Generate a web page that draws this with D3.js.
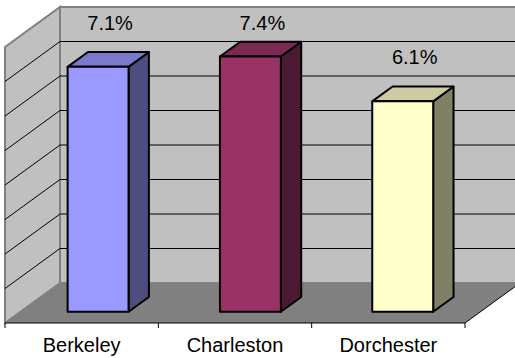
<!DOCTYPE html>
<meta charset="utf-8">
<script src="https://d3js.org/d3.v7.min.js"></script>
<style>
  body { margin: 0; background: #fff; }
  text { font-family: "Liberation Sans", Arial, sans-serif; fill: #000; }
</style>
<div id="chart"></div>
<script>
// data
var counties = ["Berkeley", "Charleston", "Dorchester"];
var rates = [7.1, 7.4, 6.1];
var rateLabels = ["7.1%", "7.4%", "6.1%"];
var frontColors = ["#9999FF", "#993366", "#FFFFCC"];
var yTicks = [1, 2, 3, 4, 5, 6, 7];

var width = 515, height = 358;

// 3d box: front plane of floor, plus depth offset
var x0 = 5, x1 = 465, yBase = 323, yTop = 47;
var DX = 55, DY = 40;
var f1 = 0.28, f2 = 0.65;   // bar depth (front, back) as fraction of floor depth

var svg = d3.select("#chart").append("svg")
    .attr("width", width)
    .attr("height", height);

var x = d3.scaleBand()
    .domain(counties)
    .range([x0, x1])
    .paddingInner(0.6)
    .paddingOuter(0.31);

var y = d3.scaleLinear()
    .domain([0, 8])
    .range([yBase, yTop]);

var cat = d3.scaleBand().domain(counties).range([x0, x1]);

function pt(px, py, f) { return [px + f * DX, py - f * DY]; }
function poly(points) { return points.map(function(p) { return p.join(","); }).join(" "); }

// side wall
svg.append("polygon")
    .attr("points", poly([pt(x0, y(8), 0), pt(x0, y(8), 1), pt(x0, y(0), 1), pt(x0, y(0), 0)]))
    .attr("fill", "#C0C0C0")
    .attr("stroke", "#808080")
    .attr("stroke-width", 2);

// back wall
svg.append("polygon")
    .attr("points", poly([pt(x0, y(8), 1), pt(x1, y(8), 1), pt(x1, y(0), 1), pt(x0, y(0), 1)]))
    .attr("fill", "#C0C0C0")
    .attr("stroke", "#808080")
    .attr("stroke-width", 2);

// floor
svg.append("polygon")
    .attr("points", poly([pt(x0, y(0), 0), pt(x1, y(0), 0), pt(x1, y(0), 1), pt(x0, y(0), 1)]))
    .attr("fill", "#808080");

svg.append("polyline")
    .attr("points", poly([pt(x0, y(0), 0), pt(x1, y(0), 0), pt(x1, y(0), 1)]))
    .attr("fill", "none")
    .attr("stroke", "#000")
    .attr("stroke-width", 1);

// gridlines
var grid = svg.append("g");
yTicks.forEach(function(t) {
  var a = pt(x0, y(t), 0), b = pt(x0, y(t), 1), c = pt(x1, y(t), 1);
  grid.append("polyline")
      .attr("points", poly([a, b, c]))
      .attr("fill", "none")
      .attr("stroke", "#000")
      .attr("stroke-width", 1);
});

// category ticks
var tickX = counties.map(function(c) { return cat(c); }).concat([x1]);
svg.selectAll(".tick")
    .data(tickX)
    .enter()
    .append("line")
      .attr("x1", function(d) { return d; })
      .attr("x2", function(d) { return d; })
      .attr("y1", yBase)
      .attr("y2", yBase + 5)
      .attr("stroke", "#000");

svg.selectAll(".cat")
    .data(counties)
    .enter()
    .append("text")
      .attr("x", function(d) { return cat(d) + cat.bandwidth() / 2; })
      .attr("y", 352)
      .attr("text-anchor", "middle")
      .style("font-size", "20px")
      .text(function(d) { return d; });

// bars
var bars = svg.selectAll(".bar")
    .data(counties)
    .enter()
    .append("g");

bars.each(function(c, i) {
  var g = d3.select(this);
  var bx = x(c), bw = x.bandwidth();
  var v = rates[i];
  var base = d3.color(frontColors[i]);
  var top = d3.rgb(base.r * 0.8, base.g * 0.8, base.b * 0.8);
  var side = d3.rgb(base.r * 0.5, base.g * 0.5, base.b * 0.5);

  var flt = pt(bx, y(v), f1), frt = pt(bx + bw, y(v), f1);
  var flb = pt(bx, y(0), f1), frb = pt(bx + bw, y(0), f1);
  var blt = pt(bx, y(v), f2), brt = pt(bx + bw, y(v), f2);
  var brb = pt(bx + bw, y(0), f2);

  g.append("polygon")
      .attr("points", poly([frt, brt, brb, frb]))
      .attr("fill", side)
      .attr("stroke", "#000").attr("stroke-width", 2).attr("stroke-linejoin", "round");
  g.append("polygon")
      .attr("points", poly([flt, frt, brt, blt]))
      .attr("fill", top)
      .attr("stroke", "#000").attr("stroke-width", 2).attr("stroke-linejoin", "round");
  g.append("polygon")
      .attr("points", poly([flt, frt, frb, flb]))
      .attr("fill", base)
      .attr("stroke", "#000").attr("stroke-width", 2).attr("stroke-linejoin", "round");
});

// value labels
svg.selectAll(".lbl")
    .data(counties)
    .enter()
    .append("text")
      .attr("x", function(c) { return x(c) + x.bandwidth() / 2 + f1 * DX + 12; })
      .attr("y", function(c, i) { return Math.max(y(rates[i]) - f1 * DY - 37, 30); })
      .attr("text-anchor", "middle")
      .style("font-size", "20px")
      .text(function(c, i) { return rateLabels[i]; });
</script>
